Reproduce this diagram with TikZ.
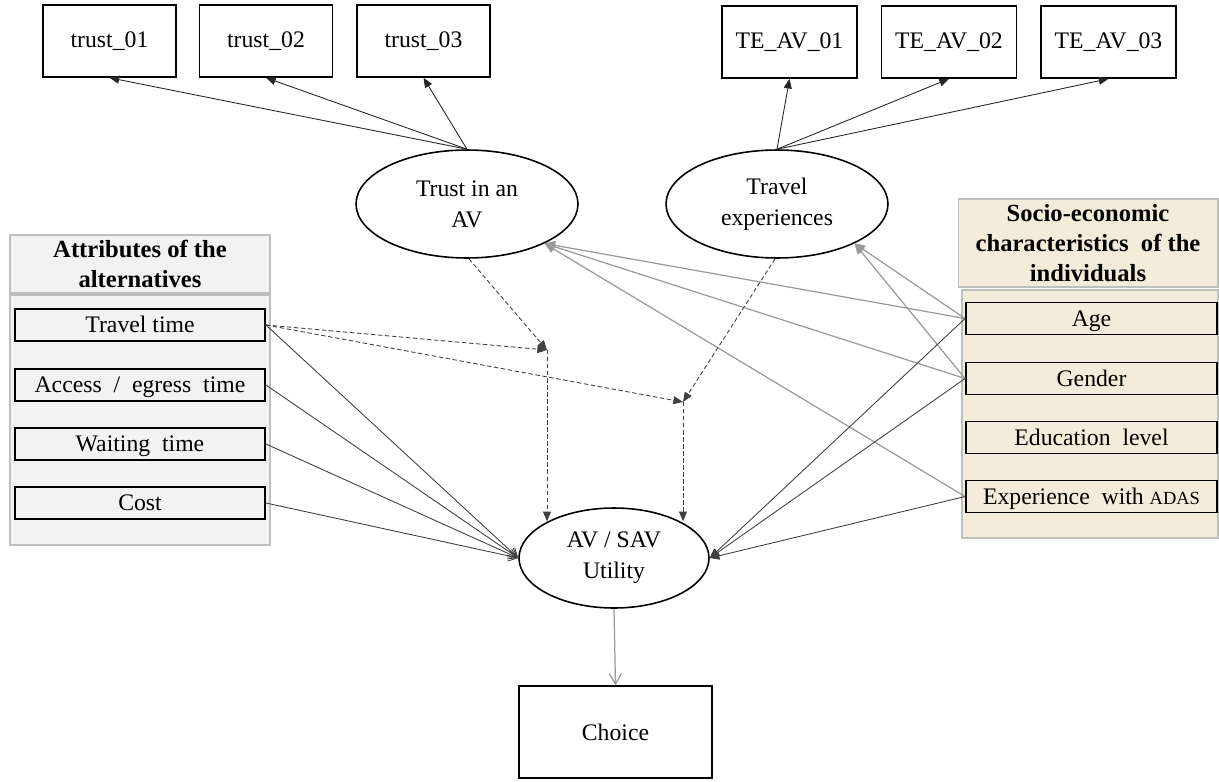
\documentclass[tikz,border=0pt]{standalone}
\usepackage{fontspec}
\setmainfont{Liberation Serif}
\usetikzlibrary{arrows.meta,shapes.geometric,calc}
\definecolor{attrfill}{HTML}{F2F2F2}
\definecolor{sociofill}{HTML}{F4EBDA}
\definecolor{panelline}{HTML}{BFBFBF}
\definecolor{darkline}{HTML}{404040}
\definecolor{greyline}{HTML}{9A9A9A}

\begin{document}
\begin{tikzpicture}[x=0.02cm, y=-0.02cm,
  font=\fontsize{13.5}{16.5}\selectfont,
  indbox/.style={draw, line width=0.9pt, minimum width=2.66cm, minimum height=1.44cm, inner sep=0pt},
  latent/.style={draw, ellipse, line width=0.9pt, minimum width=4.44cm, minimum height=2.16cm,
                 align=center, inner sep=0pt, font=\fontsize{13.5}{17.5}\selectfont},
  varbox/.style={draw, line width=1.1pt, fill=#1, minimum width=5cm, minimum height=0.64cm, inner sep=0pt,
                 text height=11pt, text depth=2pt},
  hdrbox/.style={draw=panelline, line width=0.6pt, fill=#1, align=center, minimum width=5.2cm,
                 inner sep=0pt, font=\fontsize{14}{17}\selectfont\bfseries},
  panel/.style={draw=panelline, line width=0.6pt},
  loadarr/.style={draw=black!85, line width=0.5pt, -{Triangle[length=5.5pt,width=4.5pt]}},
  attrarr/.style={draw=darkline, line width=0.5pt, -{Straight Barb[length=5pt,width=6pt]}},
  socarr/.style={draw=darkline, line width=0.5pt, -{Triangle[length=5.5pt,width=4.5pt]}},
  socgrey/.style={draw=greyline, line width=0.7pt, -{Triangle[length=6pt,width=5pt]}},
  intarr/.style={draw=darkline, line width=0.5pt, dash pattern=on 2.5pt off 1.5pt,
                 -{Triangle[length=5.5pt,width=4.5pt]}}
]
\useasboundingbox (0,0) rectangle (1219,781);

% indicators
\node[indbox] (t1) at (109.5,41) {trust\_01};
\node[indbox] (t2) at (266,41) {trust\_02};
\node[indbox] (t3) at (423.5,41) {trust\_03};
\node[indbox, minimum width=2.7cm] (e1) at (789.5,42) {TE\_AV\_01};
\node[indbox, minimum width=2.7cm] (e2) at (949,42) {TE\_AV\_02};
\node[indbox, minimum width=2.7cm] (e3) at (1108.5,42) {TE\_AV\_03};

% latent variables
\node[latent] (trust) at (467,204) {Trust in an\\AV};
\node[latent] (travel) at (777,204) {Travel\\experiences};
\node[latent, minimum width=3.8cm, minimum height=2cm] (util) at (614,558) {AV / SAV\\Utility};
\node[draw, line width=0.9pt, minimum width=3.86cm, minimum height=1.84cm] (choice) at (615.5,732) {Choice};

% attributes panel
\node[hdrbox=attrfill, minimum height=1.16cm] (atthd) at (140,264) {Attributes of the\\alternatives};
\draw[panel, fill=attrfill] (10,295) rectangle (270,545);
\node[varbox=attrfill] (tt) at (140,325) {Travel time};
\node[varbox=attrfill] (ae) at (140,385) {Access \ / \ egress \ time};
\node[varbox=attrfill] (wt) at (140,444) {Waiting \ time};
\node[varbox=attrfill] (co) at (140,503) {Cost};

% socio-economic panel
\node[hdrbox=sociofill, minimum height=1.76cm] (sochd) at (1088,243) {Socio-economic\\characteristics \ of the\\individuals};
\draw[panel, fill=sociofill] (962,290) rectangle (1218,538);
\node[varbox=sociofill, minimum width=5.02cm] (age) at (1091.5,318.5) {Age};
\node[varbox=sociofill, minimum width=5.02cm] (gen) at (1091.5,378.5) {Gender};
\node[varbox=sociofill, minimum width=5.02cm] (edu) at (1091.5,437.5) {Education \ level};
\node[varbox=sociofill, minimum width=5.02cm] (exp) at (1091.5,496.5) {Experience \ with {\fontsize{10.5}{12}\selectfont ADAS}};

% interaction points
\coordinate (m1) at (547,350);
\coordinate (m2) at (683,402);

% measurement arrows
\foreach \i in {t1,t2,t3} \draw[loadarr] (trust.north) -- (\i.south);
\foreach \i in {e1,e2,e3} \draw[loadarr] (travel.north) -- (\i.south);

% socio-economic effects on latent variables
\foreach \v in {age,gen,exp} \draw[socgrey] (\v.west) -- (trust.-27);
\foreach \v in {age,gen} \draw[socgrey] (\v.west) -- (travel.-27);

% direct effects on utility
\foreach \v in {tt,ae,wt,co} \draw[attrarr] (\v.east) -- (util.west);
\foreach \v in {age,gen,exp} \draw[socarr] (\v.west) -- (util.east);

% interactions
\draw[intarr] (trust.-88) -- (m1);
\draw[intarr] (tt.east) -- (m1);
\draw[intarr] (tt.east) -- (m2);
\draw[intarr] (travel.-92) -- (m2);
\draw[intarr] (m1) -- (m1 |- util.151);
\draw[intarr] (m2) -- (m2 |- util.29);

\draw[draw=greyline, line width=0.7pt, -{Straight Barb[length=6pt,width=7pt]}] (util.south) -- (choice.north);
\end{tikzpicture}
\end{document}
